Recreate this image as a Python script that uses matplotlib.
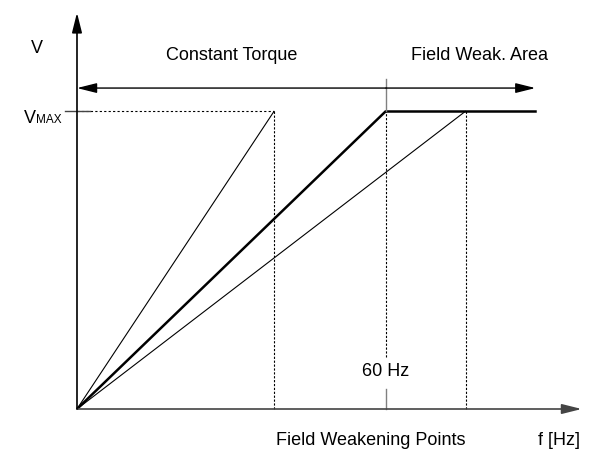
import matplotlib
matplotlib.use("Agg")
import matplotlib.pyplot as plt

plt.rcParams['font.family'] = ['Liberation Sans Narrow', 'Liberation Sans', 'DejaVu Sans']

# data (f in Hz, V per unit of Vmax)
f_nominal = 60.0
f_weak_points = [38.3, 60.0, 75.5]      # field weakening points
line_widths = [0.8, 1.8, 0.8]
v_max = 1.0
f_end = 89.0
f_axis_max = 98.0
v_axis_max = 1.33
v_arrow = 1.077

fig = plt.figure(figsize=(5.92, 4.54), dpi=100)
ax = fig.add_axes([0, 0, 1, 1])
ax.set_xlim(-14.95, 100)
ax.set_ylim(-0.151, 1.3725)
ax.axis('off')

axis_col = '#444444'
head = '-|>,head_length=1.0,head_width=0.25'
# axes with arrows
ax.annotate('', xy=(f_axis_max, 0), xytext=(0, 0),
            arrowprops=dict(arrowstyle=head, color=axis_col, lw=1.2,
                            mutation_scale=12, shrinkA=0, shrinkB=0))
ax.annotate('', xy=(0, v_axis_max), xytext=(0, 0),
            arrowprops=dict(arrowstyle=head, color='black', lw=1.2,
                            mutation_scale=12, shrinkA=0, shrinkB=0))

# V/f lines
for fw, lw in zip(f_weak_points, line_widths):
    ax.plot([0, fw], [0, v_max], color='black', lw=lw, solid_capstyle='butt')
ax.plot([f_nominal, f_end], [v_max, v_max], color='black', lw=1.8)

# dotted guides
ax.plot([0, f_weak_points[0]], [v_max, v_max], color='black', lw=0.8, ls=(0, (2, 2)))
ax.plot([f_weak_points[0]] * 2, [0, v_max], color='black', lw=0.8, ls=(0, (2, 1.5)))
ax.plot([f_weak_points[2]] * 2, [0, v_max], color='black', lw=0.8, ls=(0, (2, 1.5)))
ax.plot([f_nominal] * 2, [0.175, v_max], color='black', lw=0.8, ls=(0, (2, 1.5)))

# ticks
ax.plot([-2.3, 2.5], [v_max, v_max], color=axis_col, lw=1.0)
ax.plot([f_nominal] * 2, [0, 0.067], color='grey', lw=1.0)
ax.plot([f_nominal] * 2, [v_max, v_arrow + 0.03], color='grey', lw=1.0)

# region arrows
ax.annotate('', xy=(0, v_arrow), xytext=(f_nominal, v_arrow),
            arrowprops=dict(arrowstyle=head, color='black', lw=1.0,
                            mutation_scale=12, shrinkA=0, shrinkB=0))
ax.annotate('', xy=(f_end, v_arrow), xytext=(f_nominal, v_arrow),
            arrowprops=dict(arrowstyle=head, color='black', lw=1.0,
                            mutation_scale=12, shrinkA=0, shrinkB=0))

fs = 13
ax.text(-7.7, 1.21, 'V', fontsize=fs, ha='center', va='center')
ax.text(30, 1.185, 'Constant Torque', fontsize=fs, ha='center', va='center')
ax.text(78.2, 1.185, 'Field Weak. Area', fontsize=fs, ha='center', va='center')
ax.text(-10.4, 0.96, 'V', fontsize=fs, ha='left', va='baseline')
ax.text(-7.9, 0.96, 'MAX', fontsize=8.5, ha='left', va='baseline')
ax.text(f_nominal, 0.125, '60 Hz', fontsize=fs, ha='center', va='center')
ax.text(57, -0.105, 'Field Weakening Points', fontsize=fs, ha='center', va='center')
ax.text(93.5, -0.105, 'f [Hz]', fontsize=fs, ha='center', va='center')

fig.savefig('out.png', dpi=100)
